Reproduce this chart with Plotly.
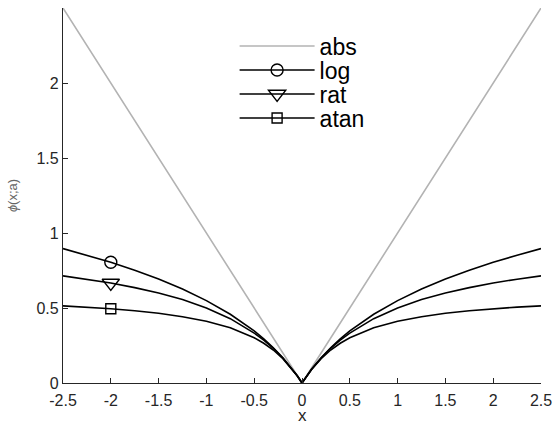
import plotly.graph_objects as go

x = [-2.5, -2.25, -2, -1.75, -1.5, -1.25, -1, -0.75, -0.5, -0.4, -0.3, -0.2, -0.1, -0.05, 0,
     0.05, 0.1, 0.2, 0.3, 0.4, 0.5, 0.75, 1, 1.25, 1.5, 1.75, 2, 2.25, 2.5]
abs_y = [2.5, 2.25, 2, 1.75, 1.5, 1.25, 1, 0.75, 0.5, 0.4, 0.3, 0.2, 0.1, 0.05, 0,
         0.05, 0.1, 0.2, 0.3, 0.4, 0.5, 0.75, 1, 1.25, 1.5, 1.75, 2, 2.25, 2.5]
log_y = [0.896, 0.852, 0.805, 0.752, 0.693, 0.626, 0.549, 0.458, 0.347, 0.294, 0.235, 0.168, 0.091, 0.048, 0,
         0.048, 0.091, 0.168, 0.235, 0.294, 0.347, 0.458, 0.549, 0.626, 0.693, 0.752, 0.805, 0.852, 0.896]
rat_y = [0.714, 0.692, 0.667, 0.636, 0.600, 0.556, 0.500, 0.429, 0.333, 0.286, 0.231, 0.167, 0.091, 0.048, 0,
         0.048, 0.091, 0.167, 0.231, 0.286, 0.333, 0.429, 0.500, 0.556, 0.600, 0.636, 0.667, 0.692, 0.714]
atan_y = [0.514, 0.506, 0.495, 0.482, 0.465, 0.442, 0.412, 0.369, 0.302, 0.265, 0.220, 0.162, 0.090, 0.048, 0,
          0.048, 0.090, 0.162, 0.220, 0.265, 0.302, 0.369, 0.412, 0.442, 0.465, 0.482, 0.495, 0.506, 0.514]

marker_x = [-2]
marker_log = [0.805]
marker_rat = [0.667]
marker_atan = [0.495]

x_ticks = [-2.5, -2, -1.5, -1, -0.5, 0, 0.5, 1, 1.5, 2, 2.5]
x_ticklabels = ["-2.5", "-2", "-1.5", "-1", "-0.5", "0", "0.5", "1", "1.5", "2", "2.5"]
y_ticks = [0, 0.5, 1, 1.5, 2, 2.5]
y_ticklabels = ["0", "0.5", "1", "1.5", "2", "2.5"]

GRAY = "#b3b3b3"
BLACK = "#000000"
AXIS = "#262626"
FONT = "Liberation Sans"

fig = go.Figure()

fig.add_trace(go.Scatter(x=x, y=abs_y, mode="lines", name="abs",
                         line=dict(color=GRAY, width=1.6), showlegend=True, legend="legend"))

series = [
    ("log", log_y, marker_log, "circle-open", 12, "legend2"),
    ("rat", rat_y, marker_rat, "triangle-down-open", 15, "legend3"),
    ("atan", atan_y, marker_atan, "square-open", 10, "legend4"),
]
for name, ys, my, sym, sz, lg in series:
    fig.add_trace(go.Scatter(x=x, y=ys, mode="lines", line=dict(color=BLACK, width=1.6),
                             showlegend=False, hoverinfo="skip"))
    fig.add_trace(go.Scatter(x=marker_x, y=my, mode="markers",
                             marker=dict(symbol=sym, size=sz, color=BLACK, line=dict(width=1.4, color=BLACK)),
                             showlegend=False))
    fig.add_trace(go.Scatter(x=[None], y=[None], mode="lines+markers", name=name, legend=lg,
                             line=dict(color=BLACK, width=1.6),
                             marker=dict(symbol=sym, size=sz, color=BLACK, line=dict(width=1.4, color=BLACK))))

leg_common = dict(xanchor="left", yanchor="middle", bgcolor="rgba(0,0,0,0)",
                  font=dict(size=23, color="#000000", family=FONT), itemwidth=75,
                  borderwidth=0)
leg_x = 0.359
plot_top, plot_h = 8, 375
rows = [46, 70, 94, 118]
legs = {}
for i, key in enumerate(["legend", "legend2", "legend3", "legend4"]):
    legs[key] = dict(leg_common, x=leg_x, y=1 - (rows[i] - plot_top) / plot_h)

fig.update_layout(
    width=553, height=425,
    margin=dict(l=63, r=12, t=8, b=42, autoexpand=False),
    paper_bgcolor="white", plot_bgcolor="white",
    font=dict(family=FONT, size=16, color=AXIS),
    xaxis=dict(range=[-2.5, 2.5], tickvals=x_ticks, ticktext=x_ticklabels, automargin=False,
               showgrid=False, zeroline=False, showline=True, linecolor=AXIS, linewidth=1.2,
               ticks="inside", ticklen=5, tickcolor=AXIS, tickwidth=1.2, ticklabelstandoff=3,
               tickfont=dict(size=16, color=AXIS)),
    yaxis=dict(range=[0, 2.5], tickvals=y_ticks, ticktext=y_ticklabels, automargin=False,
               showgrid=False, zeroline=False, showline=True, linecolor=AXIS, linewidth=1.2,
               ticks="inside", ticklen=5, tickcolor=AXIS, tickwidth=1.2,
               tickfont=dict(size=16, color=AXIS),
               title=dict(text="<i>ϕ</i>(x;a)", font=dict(size=13, color="#666666"), standoff=15)),
    annotations=[dict(text="x", xref="paper", yref="paper", x=0.5, y=-(415 - 383) / plot_h,
                      xanchor="center", yanchor="middle", showarrow=False, borderpad=0,
                      font=dict(size=17, color=AXIS, family=FONT))],
    **legs,
)

fig.write_html("out.html", config={"displayModeBar": False},
               post_script="document.body.style.margin='0px';")
